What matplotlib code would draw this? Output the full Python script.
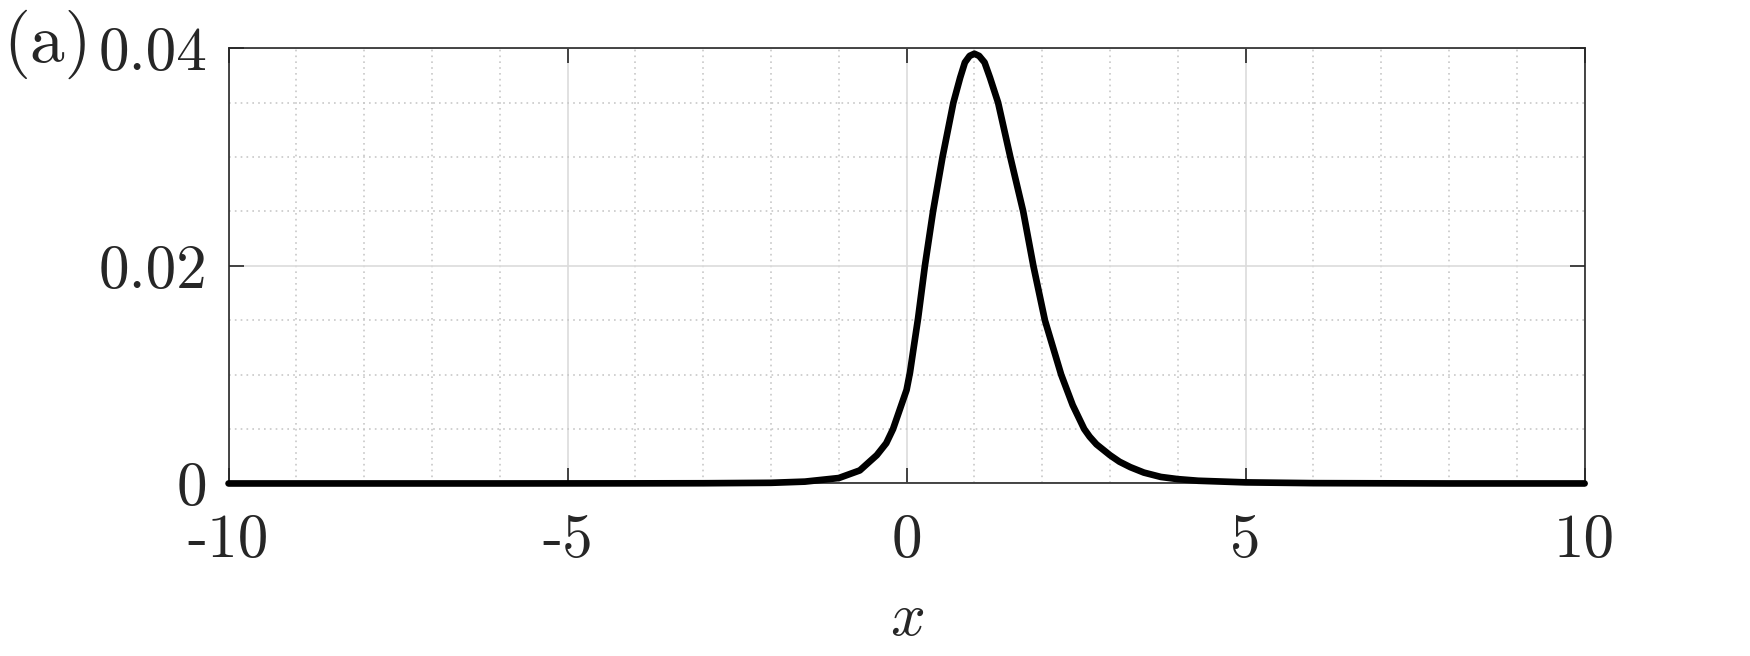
import numpy as np
import matplotlib
matplotlib.use("Agg")
import matplotlib.pyplot as plt
from matplotlib.ticker import MultipleLocator

plt.rcParams['font.family'] = 'serif'
plt.rcParams['font.serif'] = ['cmr10']
plt.rcParams['mathtext.fontset'] = 'cm'
plt.rcParams['axes.unicode_minus'] = False

#Data
xVals = [-10, -8, -6, -4, -3, -2, -1.5, -1.0, -0.69, -0.44, -0.3, -0.2, -0.1,
         0.0, 0.05, 0.1, 0.17, 0.27, 0.39, 0.53, 0.69, 0.79, 0.86, 0.93, 1.0,
         1.07, 1.15, 1.23, 1.35, 1.53, 1.72, 1.87, 2.04, 2.28, 2.45, 2.62,
         2.7, 2.8, 3.0, 3.14, 3.3, 3.5, 3.75, 4.0, 4.3, 5, 6, 8, 10]
yVals = [0, 0, 0, 0.00001, 0.00002, 0.00006, 0.00017, 0.0005, 0.0012, 0.0026,
         0.0037, 0.005, 0.0068, 0.0086, 0.0102, 0.0123, 0.0152, 0.020, 0.025,
         0.030, 0.035, 0.0373, 0.0387, 0.0393, 0.0395, 0.0393, 0.0387, 0.0373,
         0.035, 0.030, 0.025, 0.020, 0.015, 0.010, 0.0072, 0.005, 0.0043,
         0.0036, 0.0026, 0.002, 0.0015, 0.001, 0.0006, 0.0004, 0.00025, 0.0001,
         0.00003, 0, 0]

xTicks = [-10, -5, 0, 5, 10]
xTickLabels = ['-10', '-5', '0', '5', '10']
yTicks = [0, 0.02, 0.04]
yTickLabels = ['0', '0.02', '0.04']

txtColor = '#262626'

fig = plt.figure(figsize=(8.75, 3.28), dpi=200)
ax = fig.add_axes([0.1306, 0.263, 0.7749, 0.6634])

#--grid
ax.set_axisbelow(True)
ax.xaxis.set_minor_locator(MultipleLocator(1))
ax.yaxis.set_minor_locator(MultipleLocator(0.005))
ax.grid(which='major', color='#dcdcdc', linewidth=0.6, linestyle='-')
ax.grid(which='minor', color='#c8c8c8', linewidth=0.6, linestyle=(0, (1, 2.5)))

#--curve
ax.plot(xVals, yVals, color='black', linewidth=2.4, solid_capstyle='round',
        solid_joinstyle='round', clip_on=False, zorder=5)

ax.set_xlim(-10, 10)
ax.set_ylim(0, 0.04)
ax.set_xticks(xTicks, labels=xTickLabels)
ax.set_yticks(yTicks, labels=yTickLabels)

ax.tick_params(which='major', direction='in', length=5.5, width=0.6, colors=txtColor,
               labelsize=22, top=True, right=True, pad=7.5)
ax.tick_params(axis='x', which='major', pad=11)
ax.tick_params(which='minor', length=0, top=True, right=True)
for s in ax.spines.values():
    s.set_color(txtColor)
    s.set_linewidth(0.6)

ax.set_xlabel('$x$', fontsize=22, color=txtColor, labelpad=8)

fig.text(0.002, 0.905, '(a)', fontsize=25, color=txtColor, ha='left', va='baseline')

plt.savefig('out.png', dpi=200)
